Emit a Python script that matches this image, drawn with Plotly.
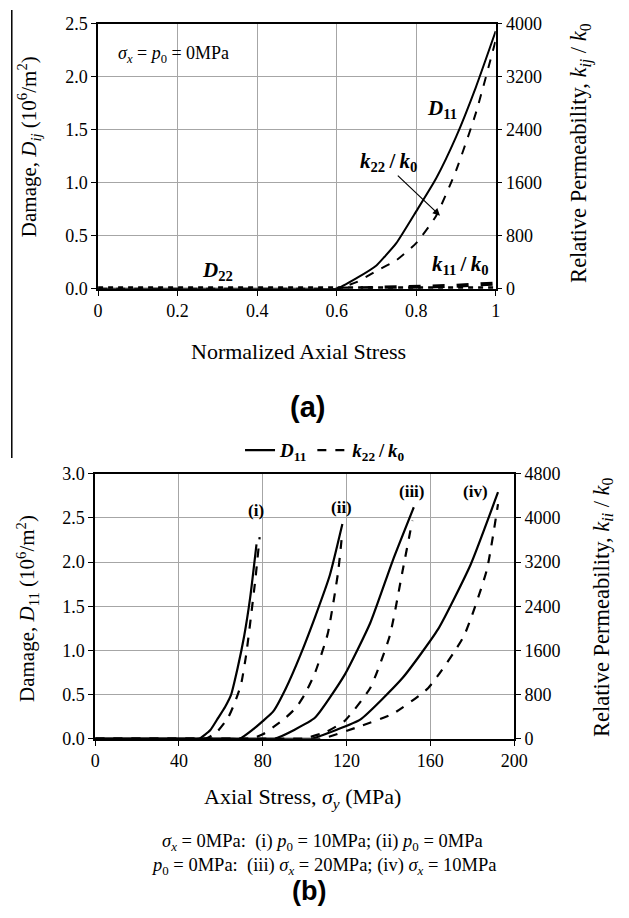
import plotly.graph_objects as go

W, H = 629, 918
SERIF = "Liberation Serif"
SANS = "Liberation Sans"

# ---------------- data : panel (a) ----------------
a_x_d11 = [0, 0.55, 0.6, 0.65, 0.7, 0.72, 0.75, 0.8, 0.85, 0.9, 0.95, 1.0]
a_d11 = [0, 0, 0, 0.1, 0.22, 0.3, 0.43, 0.73, 1.04, 1.43, 1.9, 2.43]
a_x_k22 = [0, 0.55, 0.6, 0.65, 0.7, 0.75, 0.8, 0.85, 0.9, 0.95, 1.0]
a_k22 = [0, 0, 0, 100, 270, 430, 690, 1100, 1780, 2650, 3750]
a_x_k11 = [0.6, 0.7, 0.8, 0.9, 1.0]
a_k11 = [0, 10, 25, 45, 80]
a_x_d22 = [0, 0.5, 1.0]
a_d22 = [0, 0, 0]

a_xticks = [0, 0.2, 0.4, 0.6, 0.8, 1.0]
a_xticktext = ["0", "0.2", "0.4", "0.6", "0.8", "1"]

# ---------------- data : panel (b) ----------------
b_x_d11_i = [0, 45, 49.5, 55, 58.8, 62, 64.9, 68, 71.1, 74, 77]
b_d11_i = [0, 0, 0, 0.1, 0.24, 0.36, 0.5, 0.8, 1.16, 1.6, 2.2]
b_x_k22_i = [0, 48, 52.8, 58, 63.4, 66.5, 69.6, 72, 74.2, 76.5, 78.5]
b_k22_i = [0, 0, 0, 120, 380, 640, 980, 1500, 2160, 2900, 3650]

b_x_d11_ii = [0, 64, 69, 75, 80, 85, 91, 98, 105, 112, 118]
b_d11_ii = [0, 0, 0, 0.1, 0.2, 0.31, 0.57, 0.95, 1.38, 1.85, 2.43]
b_x_k22_ii = [0, 69, 74, 80, 85, 90, 95.8, 100, 105, 111, 115.9, 118]
b_k22_ii = [0, 0, 0, 80, 210, 350, 560, 800, 1200, 1900, 3000, 3750]

b_x_d11_iii = [0, 80, 85.6, 95, 105, 119, 131.3, 142.1, 152.1]
b_d11_iii = [0, 0, 0, 0.1, 0.24, 0.72, 1.31, 2.02, 2.62]
b_x_k22_iii = [0, 93, 99, 110, 119, 131.3, 140.6, 146.8, 151.4]
b_k22_iii = [0, 0, 0, 120, 320, 920, 1860, 3050, 3950]

b_x_d11_iv = [0, 97, 103, 115, 126.7, 146.8, 163.7, 179.2, 192.3]
b_d11_iv = [0, 0, 0, 0.1, 0.22, 0.69, 1.24, 1.97, 2.79]
b_x_k22_iv = [0, 102, 108, 126.7, 142, 159, 176, 186.9, 192.3]
b_k22_iv = [0, 0, 0, 230, 450, 920, 1860, 3050, 4250]

b_case_labels = ["(i)", "(ii)", "(iii)", "(iv)"]
b_case_label_x = [77, 117.4, 151.4, 181.5]
b_case_label_y = [2.58, 2.62, 2.8, 2.8]


def px(x):
    return x / W


def py(y):
    return 1 - y / H


SM = 0.5
TS = "\u2009"  # thin space
fig = go.Figure()

# panel (a) traces
fig.add_trace(go.Scatter(x=a_x_d22, y=a_d22, xaxis="x", yaxis="y", mode="lines",
                         line=dict(color="black", width=5, dash="dot"), showlegend=False))
fig.add_trace(go.Scatter(x=a_x_k11, y=a_k11, xaxis="x", yaxis="y2", mode="lines",
                         line=dict(color="black", width=4, dash="dash"), showlegend=False))
fig.add_trace(go.Scatter(x=a_x_d11, y=a_d11, xaxis="x", yaxis="y", mode="lines",
                         line=dict(color="black", width=2, shape="spline", smoothing=SM),
                         showlegend=False))
fig.add_trace(go.Scatter(x=a_x_k22, y=a_k22, xaxis="x", yaxis="y2", mode="lines",
                         line=dict(color="black", width=2, dash="dash", shape="spline",
                                   smoothing=SM),
                         showlegend=False))

# panel (b) traces
solid_sets = [(b_x_d11_i, b_d11_i), (b_x_d11_ii, b_d11_ii), (b_x_d11_iii, b_d11_iii),
              (b_x_d11_iv, b_d11_iv)]
dash_sets = [(b_x_k22_i, b_k22_i), (b_x_k22_ii, b_k22_ii), (b_x_k22_iii, b_k22_iii),
             (b_x_k22_iv, b_k22_iv)]
for i, (xs, ys) in enumerate(solid_sets):
    fig.add_trace(go.Scatter(x=xs, y=ys, xaxis="x2", yaxis="y3", mode="lines",
                             line=dict(color="black", width=2.2, shape="spline", smoothing=SM),
                             name="<b><i>D</i><sub>11</sub></b>", legendgroup="d",
                             showlegend=(i == 0)))
for i, (xs, ys) in enumerate(dash_sets):
    fig.add_trace(go.Scatter(x=xs, y=ys, xaxis="x2", yaxis="y4", mode="lines",
                             line=dict(color="black", width=2.2, dash="dash", shape="spline",
                                       smoothing=SM),
                             name="<b><i>k</i><sub>22</sub>" + TS + "/" + TS + "<i>k</i><sub>0</sub></b>",
                             legendgroup="k", showlegend=(i == 0)))

tickfont = dict(family=SERIF, size=18, color="black")
grid = "#a6a6a6"

axis_common = dict(showline=True, linecolor="black", linewidth=1.5, ticks="outside",
                   ticklen=5, tickcolor="black", tickfont=tickfont, zeroline=False)

fig.update_layout(
    width=W, height=H,
    margin=dict(l=0, r=0, t=0, b=0),
    paper_bgcolor="white", plot_bgcolor="white",
    font=dict(family=SERIF, color="black"),
    xaxis=dict(domain=[px(96), px(506)], anchor="y", range=[0, 1],
               tickvals=a_xticks, ticktext=a_xticktext, showgrid=True, gridcolor=grid,
               mirror=True, **axis_common),
    yaxis=dict(domain=[py(285), py(14)], anchor="x", range=[0, 2.5], dtick=0.5,
               tickformat=".1f", showgrid=True, gridcolor=grid, **axis_common),
    yaxis2=dict(overlaying="y", side="right", anchor="x", range=[0, 4000], dtick=800,
                showgrid=False, **axis_common),
    xaxis2=dict(domain=[px(93), px(525)], anchor="y3", range=[0, 200], dtick=40,
                showgrid=True, gridcolor=grid, mirror=True, **axis_common),
    yaxis3=dict(domain=[py(745), py(474)], anchor="x2", range=[0, 3.0], dtick=0.5,
                tickformat=".1f", showgrid=True, gridcolor=grid, **axis_common),
    yaxis4=dict(overlaying="y3", side="right", anchor="x2", range=[0, 4800], dtick=800,
                showgrid=False, **axis_common),
    legend=dict(orientation="h", x=px(330), xanchor="center", y=py(450), yanchor="middle",
                font=dict(family=SERIF, size=19, color="black"), bgcolor="rgba(0,0,0,0)"),
)

ann = []


def paper_text(text, x, y, size=18, angle=0, family=SERIF):
    ann.append(dict(text=text, x=px(x), y=py(y), xref="paper", yref="paper",
                    showarrow=False, textangle=angle, xanchor="center", yanchor="middle",
                    font=dict(family=family, size=size, color="black")))


# axis titles panel (a)
paper_text("Damage, <i>D</i><sub><i>ij</i></sub> (10<sup>6</sup>/m<sup>2</sup>)", 25, 140, 21, -90)
paper_text("Relative Permeability, <i>k</i><sub><i>ij</i></sub> / <i>k</i><sub>0</sub>", 594, 146, 22.5, -90)
paper_text("Normalized Axial Stress", 303, 349, 22)
paper_text("<b>(a)</b>", 312, 406, 29, 0, SANS)

# axis titles panel (b)
paper_text("Damage, <i>D</i><sub>11</sub> (10<sup>6</sup>/m<sup>2</sup>)", 23, 612, 21, -90)
paper_text("Relative Permeability, <i>k</i><sub><i>ii</i></sub> / <i>k</i><sub>0</sub>", 616, 610, 22.5, -90)
paper_text("Axial Stress, <i>σ</i><sub><i>y</i></sub> (MPa)", 307, 806, 22)
paper_text("<i>σ</i><sub><i>x</i></sub> = 0MPa:  (i) <i>p</i><sub>0</sub> = 10MPa; (ii) <i>p</i><sub>0</sub> = 0MPa",
           327, 851, 18.5)
paper_text("<i>p</i><sub>0</sub> = 0MPa:  (iii) <i>σ</i><sub><i>x</i></sub> = 20MPa; (iv) <i>σ</i><sub><i>x</i></sub> = 10MPa",
           328, 876, 18.5)
paper_text("<b>(b)</b>", 313, 901, 27, 0, SANS)


def data_text(text, x, y, xr, yr, size=18):
    ann.append(dict(text=text, x=x, y=y, xref=xr, yref=yr, showarrow=False,
                    xanchor="center", yanchor="middle",
                    font=dict(family=SERIF, size=size, color="black")))


# panel (a) labels
data_text("<i>σ</i><sub><i>x</i></sub> = <i>p</i><sub>0</sub> = 0MPa", 0.19, 2.21, "x", "y", 18)
data_text("<b><i>D</i><sub>11</sub></b>", 0.865, 1.7, "x", "y", 21)
data_text("<b><i>k</i><sub>22</sub>" + TS + "/" + TS + "<i>k</i><sub>0</sub></b>", 0.73, 1.2, "x", "y", 21)
data_text("<b><i>k</i><sub>11</sub>" + TS + "/" + TS + "<i>k</i><sub>0</sub></b>", 0.91, 0.22, "x", "y", 21)
data_text("<b><i>D</i><sub>22</sub></b>", 0.3, 0.17, "x", "y", 21)
ann.append(dict(x=0.86, y=0.69, ax=0.75, ay=1.08, xref="x", yref="y", axref="x", ayref="y",
                showarrow=True, arrowhead=2, arrowsize=1.2, arrowwidth=1.2,
                arrowcolor="black", text=""))

# panel (b) case labels
for lab, lx, ly in zip(b_case_labels, b_case_label_x, b_case_label_y):
    data_text("<b>" + lab + "</b>", lx, ly, "x2", "y3", 17)

fig.update_layout(annotations=ann)

# page border fragment on the left
fig.add_shape(type="line", xref="paper", yref="paper", x0=px(7), x1=px(7), y0=py(458), y1=1,
              line=dict(color="black", width=1.5))

fig.write_html("out.html")
